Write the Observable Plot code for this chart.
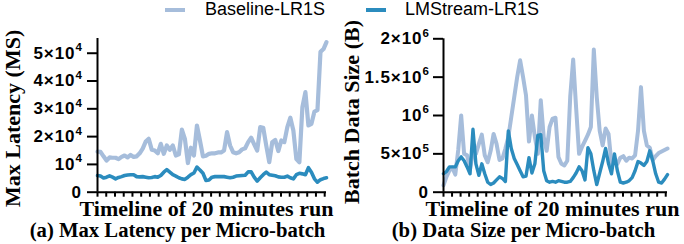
<!DOCTYPE html>
<html><head><meta charset="utf-8">
<script src="https://cdn.jsdelivr.net/npm/d3@7"></script>
<script src="https://cdn.jsdelivr.net/npm/@observablehq/plot@0.6"></script>
<style>
body{margin:0;background:#fff;}
#root{position:relative;width:684px;height:244px;overflow:hidden;background:#fff;}
.panel{position:absolute;top:0;}
.cap{position:absolute;top:218.5px;font:bold 20.7px "Liberation Serif";line-height:22px;white-space:nowrap;transform:translateX(-50%);color:#000;}
.leg{position:absolute;top:0;font:18px "Liberation Sans";line-height:18px;white-space:nowrap;color:#000;}
.sw{position:absolute;top:8px;height:4px;width:20px;}
</style></head><body><div id="root"></div>
<script>
const seriesNames = ["Baseline-LR1S", "LMStream-LR1S"];
const colors = ["#a6bddb", "#2b8cbe"];

// (a) Max latency per micro-batch (ms)
const latencyBaseline = [14600,14500,12900,11400,12500,12400,12400,11900,12700,13200,12500,13400,12700,12900,14000,15700,18200,19200,15300,15000,14000,17400,13800,16800,15300,16800,13200,13600,22500,19200,10500,16000,13200,24000,18600,12900,13100,13800,14000,14000,14300,14300,15000,21600,16800,14400,14000,14400,15400,15800,18000,19600,17200,15000,23400,23200,16800,10800,18000,18800,14800,18600,18000,23400,26800,22200,11900,10800,30600,36000,24000,24600,29000,29500,50500,51500,54000];
const latencyLMStream = [6000,5800,5100,5400,5900,5400,4800,5300,5600,6000,6200,6300,6300,5600,5500,5600,5400,5200,5300,5600,5400,6000,7200,8100,7200,6300,5800,5200,4800,4600,5400,6300,6900,9000,8000,6800,4200,4400,5400,5600,5600,5600,5600,5400,5200,5400,5800,5900,6000,6100,7300,7300,5400,4000,5200,6300,7200,6300,6100,5900,5500,5400,5400,5800,5200,4800,6300,6800,6600,6300,8800,7200,4800,3600,4500,4900,5200];

// (b) Data size per micro-batch (bytes)
const sizeBaseline = [90000,200000,280000,320000,230000,550000,1000000,500000,480000,300000,520000,500000,630000,750000,480000,390000,540000,760000,630000,420000,440000,570000,720000,980000,1240000,1500000,1720000,1500000,1260000,660000,1000000,720000,500000,1200000,720000,540000,850000,960000,970000,460000,370000,350000,410000,1250000,1730000,1100000,500000,590000,670000,750000,850000,1860000,1240000,800000,610000,830000,760000,370000,390000,370000,450000,470000,410000,450000,440000,480000,800000,1370000,800000,610000,580000,420000,470000,510000,530000,550000,570000];
const sizeLMStream = [240000,270000,330000,330000,330000,410000,460000,410000,330000,240000,820000,370000,220000,370000,240000,130000,100000,120000,160000,200000,180000,140000,800000,570000,440000,360000,280000,200000,210000,450000,250000,370000,740000,750000,280000,150000,130000,140000,130000,150000,140000,130000,130000,140000,190000,250000,330000,280000,160000,580000,500000,280000,100000,250000,400000,570000,370000,240000,500000,280000,130000,120000,130000,150000,190000,280000,400000,380000,350000,400000,540000,410000,240000,130000,120000,170000,230000];

const ticksA = [0, 10000, 20000, 30000, 40000, 50000];
const tickLabelsA = ["0", "10^4", "2×10^4", "3×10^4", "4×10^4", "5×10^4"];
const ticksB = [0, 500000, 1000000, 1500000, 2000000];
const tickLabelsB = ["0", "5×10^5", "10^6", "1.5×10^6", "2×10^6"];
const xTitle = "Timeline of 20 minutes run";
const yTitleA = "Max Latency (MS)";
const yTitleB = "Batch Data Size (B)";
const captionA = "(a) Max Latency per Micro-batch";
const captionB = "(b) Data Size per Micro-batch";

const root = document.getElementById("root");
const serif = "Liberation Serif, Times New Roman, serif";
const sans = "Liberation Sans, Arial, Helvetica, sans-serif";

function panel(o) {
  const n = o.s1.length;
  const xTicks = d3.range(0, n, 2.9);
  const labelMap = new Map(o.ticks.map((t, i) => [t, o.labels[i]]));
  const labelSet = new Set(o.labels);
  const plot = Plot.plot({
    width: 342, height: 222,
    marginLeft: o.ml, marginRight: o.mr, marginTop: o.mt, marginBottom: 30.3,
    x: {domain: [0, n - 1]},
    y: {domain: o.yDomain},
    style: {background: "transparent", overflow: "visible"},
    marks: [
      Plot.lineY(o.s1, {stroke: colors[0], strokeWidth: o.w1}),
      Plot.lineY(o.s2, {stroke: colors[1], strokeWidth: o.w2}),
      Plot.ruleX([0], {strokeWidth: 2, stroke: "#000"}),
      Plot.ruleY([0], {strokeWidth: 2, stroke: "#000"}),
      Plot.axisY({ticks: o.ticks, tickFormat: () => "", tickSize: 10, strokeWidth: 2, label: null}),
      Plot.text(o.ticks, {y: d => d, text: d => labelMap.get(d), frameAnchor: "left", dx: o.tdx,
        textAnchor: "end", lineAnchor: "middle", fontSize: 17, fontWeight: "bold", fontFamily: sans,
        fill: "#000"}),
      Plot.axisX({ticks: xTicks, tickFormat: () => "", tickSize: 5, strokeWidth: 2, label: null}),
      Plot.text([o.yTitle], {text: d => d, frameAnchor: "left", rotate: -90, dx: o.ytDx, dy: o.ytDy,
        lineAnchor: "bottom", textAnchor: "middle", fontSize: 22, fontWeight: "bold", fontFamily: serif, fill: "#000"}),
      Plot.text([xTitle], {text: d => d, frameAnchor: "bottom", dy: 23.3, dx: o.xtDx,
        lineAnchor: "bottom", textAnchor: "middle", fontSize: 22, fontWeight: "bold", fontFamily: serif, fill: "#000"})
    ]
  });
  d3.select(plot).selectAll("text").each(function () {
    const s = (this.textContent || "").trim();
    if (!labelSet.has(s)) return;
    const t = d3.select(this).attr("letter-spacing", "0.9");
    if (s.includes("^")) {
      const [base, exp] = s.split("^");
      t.text(null);
      t.append("tspan").text(base);
      t.append("tspan").attr("dy", -7.5).attr("font-size", "11.5px").attr("letter-spacing", "0").text(exp);
    }
  });
  plot.classList.add("panel");
  plot.style.left = o.left + "px";
  root.appendChild(plot);
}

panel({s1: latencyBaseline, s2: latencyLMStream, yDomain: [0, 55300], ticks: ticksA, labels: tickLabelsA,
  ml: 97, mr: 16, mt: 38, tdx: -15.7, w1: 4.2, w2: 3.6, yTitle: yTitleA, ytDx: -78, ytDy: 3, xtDx: -5.5, left: 0});
panel({s1: sizeBaseline, s2: sizeLMStream, yDomain: [0, 2000000], ticks: ticksB, labels: tickLabelsB,
  ml: 101, mr: 17, mt: 38.3, tdx: -14.7, w1: 4, w2: 3.4, yTitle: yTitleB, ytDx: -85, ytDy: -3.5, xtDx: -3, left: 342});

function div(cls, text, style) {
  const d = document.createElement("div");
  d.className = cls;
  if (text) d.textContent = text;
  Object.assign(d.style, style);
  root.appendChild(d);
  return d;
}
div("cap", captionA, {left: "177.5px"});
div("cap", captionB, {left: "523.5px"});
div("sw", "", {left: "165px", background: colors[0]});
div("leg", seriesNames[0], {left: "205px"});
div("sw", "", {left: "366px", background: colors[1]});
div("leg", seriesNames[1], {left: "405px"});
</script></body></html>
